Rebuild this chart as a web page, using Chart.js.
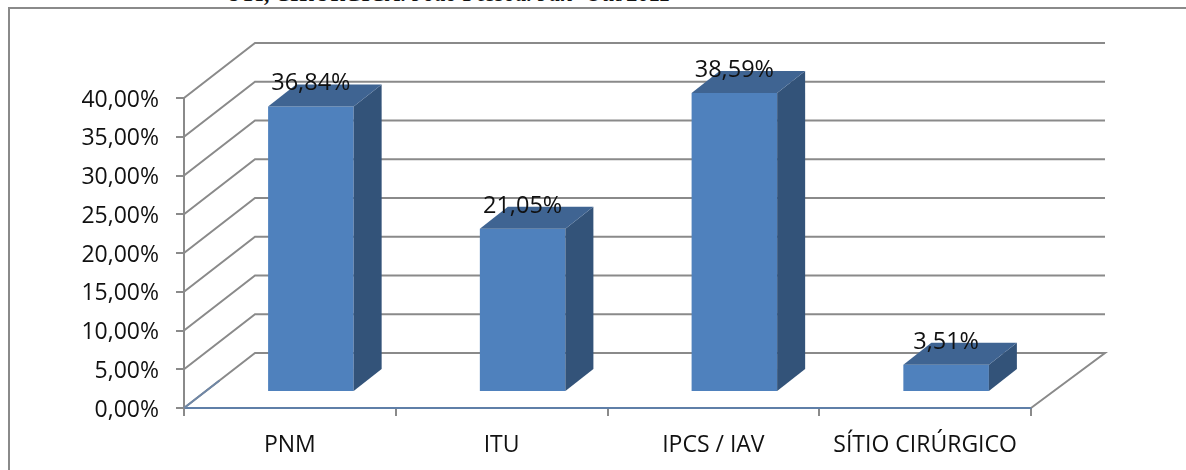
<!DOCTYPE html>
<html>
<head>
<meta charset="utf-8">
<title>Infecções UTI</title>
<style>
    html, body { margin: 0; padding: 0; background: #fff; width: 1186px; height: 470px; overflow: hidden; }
    #frame { position: absolute; left: 8px; top: 7px; width: 1300px; height: 600px; border-left: 2px solid #8a8a8a; border-top: 2px solid #8a8a8a; }
    #heading { position: absolute; left: 226px; top: -19px; font: italic bold 22.5px "Liberation Serif", serif; color: #111; white-space: nowrap; }
    #wrap { position: absolute; left: 0; top: 0; width: 1186px; height: 470px; }
</style>
</head>
<body>
<div id="frame"></div>
<div id="heading">UTI, CIRÚRGICA. João Pessoa. Jan- Out/2011</div>
<div id="wrap"><canvas id="chart" width="1186" height="470"></canvas></div>
<script src="https://cdn.jsdelivr.net/npm/chart.js@4/dist/chart.umd.min.js"></script>
<script>
const categories = ['PNM', 'ITU', 'IPCS / IAV', 'SÍTIO CIRÚRGICO'];
const infectionRates = [36.84, 21.05, 38.59, 3.51];
const yTicks = [0, 5, 10, 15, 20, 25, 30, 35, 40];

const FONT = '"Open Sans", sans-serif';
const GRID = '#8a8a8a';

// fake 3D: depth of the whole floor, and of one bar
const wall = { dx: 71, dy: -55, rightDx: 74 };
const barShift = { dx: 21, dy: -16 };
const barDepth = { dx: 28, dy: -22 };

function pct(v) {
    return v.toFixed(2).replace('.', ',') + '%';
}

function line(ctx, pts, color) {
    ctx.beginPath();
    ctx.moveTo(pts[0][0], pts[0][1]);
    pts.slice(1).forEach(p => ctx.lineTo(p[0], p[1]));
    ctx.strokeStyle = color;
    ctx.lineWidth = 2;
    ctx.stroke();
}

function face(ctx, pts, color) {
    ctx.beginPath();
    ctx.moveTo(pts[0][0], pts[0][1]);
    pts.slice(1).forEach(p => ctx.lineTo(p[0], p[1]));
    ctx.closePath();
    ctx.fillStyle = color;
    ctx.fill();
}

const depthPlugin = {
    id: 'depth',
    beforeDatasetsDraw(chart) {
        const { ctx, scales: { x, y } } = chart;
        ctx.save();
        yTicks.forEach(v => {
            const py = y.getPixelForValue(v);
            if (v === 0) return;
            line(ctx, [[x.left, py], [x.left + wall.dx, py + wall.dy], [x.right + wall.rightDx, py + wall.dy]], GRID);
        });
        // floor
        const y0 = y.getPixelForValue(0);
        line(ctx, [[x.left, y0], [x.left + wall.dx, y0 + wall.dy], [x.right + wall.rightDx, y0 + wall.dy], [x.right, y0]], GRID);
        line(ctx, [[x.left, y0], [x.left + wall.dx / 2, y0 + wall.dy / 2]], '#6f87a6');
        ctx.restore();
    },
    beforeDatasetDraw(chart) {
        chart.ctx.save();
        chart.ctx.translate(barShift.dx, barShift.dy);
    },
    afterDatasetDraw(chart) {
        chart.ctx.restore();
    },
    afterDatasetsDraw(chart) {
        const { ctx } = chart;
        chart.getDatasetMeta(0).data.forEach((bar, i) => {
            const half = bar.width / 2;
            const l = bar.x - half + barShift.dx;
            const r = bar.x + half + barShift.dx;
            const t = bar.y + barShift.dy;
            const b = bar.base + barShift.dy;
            const d = barDepth;
            face(ctx, [[r, t], [r + d.dx, t + d.dy], [r + d.dx, b + d.dy], [r, b]], '#335379');
            face(ctx, [[l, t], [l + d.dx, t + d.dy], [r + d.dx, t + d.dy], [r, t]], '#3f6492');
            ctx.save();
            ctx.font = '23.5px ' + FONT;
            ctx.fillStyle = '#111';
            ctx.textAlign = 'center';
            ctx.textBaseline = 'alphabetic';
            ctx.fillText(pct(infectionRates[i]), (l + r) / 2, t - 16);
            ctx.restore();
        });
    }
};

new Chart(document.getElementById('chart'), {
    type: 'bar',
    data: {
        labels: categories,
        datasets: [{
            data: infectionRates,
            backgroundColor: '#4f81bd',
            barPercentage: 0.404,
            categoryPercentage: 1,
            clip: false
        }]
    },
    options: {
        responsive: false,
        animation: false,
        layout: { padding: { top: 98, right: 155, left: 0, bottom: 0 } },
        plugins: { legend: { display: false }, tooltip: { enabled: false }, title: { display: false } },
        scales: {
            x: {
                afterFit: s => { s.height = 62; },
                border: { color: '#5f7fa8', width: 2 },
                grid: { drawOnChartArea: false, color: GRID, lineWidth: 2, tickLength: 8 },
                ticks: { color: '#111', font: { family: FONT, size: 23 }, padding: 16, maxRotation: 0 }
            },
            y: {
                min: 0,
                max: 40,
                afterFit: s => { s.width = 184; },
                afterBuildTicks: s => { s.ticks = yTicks.map(v => ({ value: v })); },
                border: { color: GRID, width: 2 },
                grid: { drawOnChartArea: false, color: GRID, lineWidth: 2, tickLength: 8 },
                ticks: { color: '#111', font: { family: FONT, size: 23 }, padding: 17, labelOffset: 2, callback: v => pct(v) }
            }
        }
    },
    plugins: [depthPlugin]
});
</script>
</body>
</html>
